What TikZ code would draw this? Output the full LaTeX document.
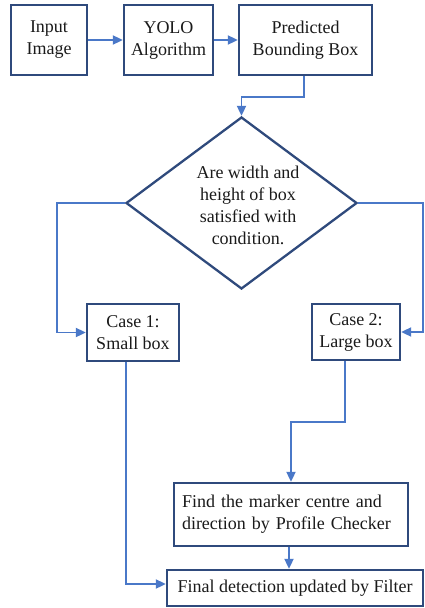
\documentclass[tikz,border=0pt]{standalone}
\usepackage{fontspec}
\setmainfont{Liberation Serif}
\usetikzlibrary{arrows.meta,shapes.geometric}
\definecolor{boxline}{HTML}{2F4A7C}
\definecolor{flowline}{HTML}{4A78C8}
\definecolor{inktext}{HTML}{1A1A1A}
\begin{document}
\begin{tikzpicture}[x=1pt,y=-1pt,
  every node/.style={font=\fontsize{18}{22}\selectfont, text=inktext},
  stepbox/.style={draw=boxline, line width=2.3pt, fill=white, inner sep=0pt, align=center},
  decbox/.style={diamond, draw=boxline, line width=2.3pt, inner sep=0pt},
  conn/.style={draw=flowline, line width=1.8pt, -{Triangle[length=10pt,width=9pt]}},
  ]
  \useasboundingbox (0,0) rectangle (425,608);

  % top row
  \node[stepbox, minimum width=76pt, minimum height=70pt] (in) at (49,40) {Input\\Image};
  \node[stepbox, minimum width=89pt, minimum height=70pt] (yolo) at (168.5,40) {YOLO\\Algorithm};
  \node[stepbox, minimum width=133pt, minimum height=70pt] (pred) at (305.5,40) {Predicted\\Bounding Box};

  % decision
  \node[decbox, minimum width=231pt, minimum height=172pt] (dec) at (241.5,203) {};
  \node[align=center, inner sep=0pt] (dectext) at (248,205) {Are width and\\height of box\\satisfied with\\condition.};

  % cases
  \node[stepbox, minimum width=92pt, minimum height=57pt] (c1) at (133,332.5) {Case 1:\\Small box};
  \node[stepbox, minimum width=88pt, minimum height=56pt] (c2) at (356,332) {Case 2:\\Large box};

  % bottom
  \node[stepbox, minimum width=234pt, minimum height=63pt, text width=218pt, align=left] (find) at (291,514.5)
    {Find the marker centre and\\direction by Profile Checker};
  \node[stepbox, minimum width=256pt, minimum height=36pt] (final) at (295,588) {Final detection updated by Filter};

  % bend points
  \coordinate (k1) at (241.5,97);
  \coordinate (kL) at (57,332.5);
  \coordinate (kR) at (423,332);

  % connectors
  \draw[conn] (in.east) -- (yolo.west);
  \draw[conn] (yolo.east) -- (pred.west);
  \draw[conn] ([xshift=-1.5pt]pred.south) |- (k1) -- (dec.north);
  \draw[conn] (dec.west) -| (kL) -- (c1.west);
  \draw[conn] (dec.east) -| (kR) -- (c2.east);
  \draw[conn] ([xshift=-7pt]c1.south) |- ([yshift=4pt]final.west);
  \draw[conn] ([xshift=-11pt]c2.south) -- ++(0,61) -| (find.north);
  \draw[conn] ([xshift=-2pt]find.south) -- ([xshift=-2pt]find.south |- final.north);
\end{tikzpicture}
\end{document}
